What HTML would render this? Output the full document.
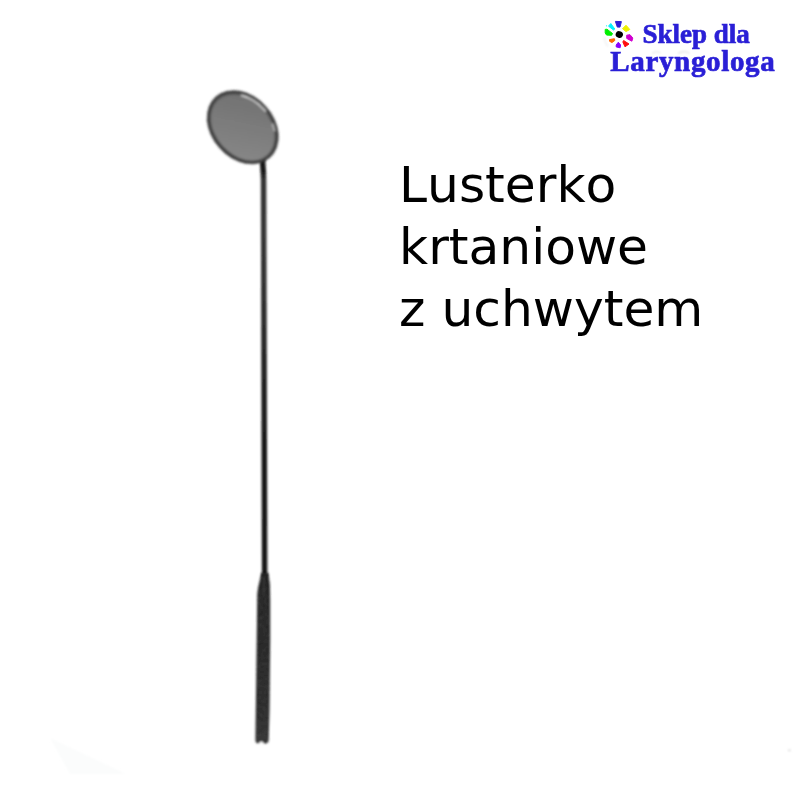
<!DOCTYPE html>
<html lang="pl">
<head>
<meta charset="utf-8">
<title>Lusterko krtaniowe z uchwytem</title>
<style>
html,body{margin:0;padding:0;background:#fff;}
body{width:800px;height:800px;position:relative;overflow:hidden;font-family:"DejaVu Sans","Liberation Sans",sans-serif;}
#art{position:absolute;left:0;top:0;width:800px;height:800px;}
.title{position:absolute;left:399px;top:153.8px;font-family:"DejaVu Sans","Liberation Sans",sans-serif;font-size:50.3px;line-height:62px;color:#000;white-space:nowrap;font-kerning:none;}
.logo{position:absolute;font-family:"Liberation Serif",serif;font-weight:bold;color:#2a1fd6;white-space:nowrap;-webkit-text-stroke:0.7px #2a1fd6;filter:blur(0.6px);}
.l1{left:642.5px;top:18.8px;font-size:27px;line-height:30px;}
.l2{left:610.3px;top:44.9px;font-size:29px;line-height:32px;letter-spacing:0.65px;}
</style>
</head>
<body>
<svg id="art" width="800" height="800" viewBox="0 0 800 800">
  <defs>
    <filter id="b1" x="-20%" y="-20%" width="140%" height="140%"><feGaussianBlur stdDeviation="0.9"/></filter>
    <filter id="b3" x="-50%" y="-5%" width="200%" height="110%"><feGaussianBlur stdDeviation="1.25"/></filter>
    <filter id="nz" x="0" y="0" width="100%" height="100%">
      <feTurbulence type="fractalNoise" baseFrequency="0.55 0.35" numOctaves="2" seed="7" result="t"/>
      <feColorMatrix in="t" type="matrix" values="0 0 0 0 1  0 0 0 0 1  0 0 0 0 1  2.2 0 0 0 -1.0" result="n"/>
      <feComposite in="n" in2="SourceGraphic" operator="in"/>
      <feGaussianBlur stdDeviation="0.5"/>
    </filter>
    <filter id="b2" x="-20%" y="-20%" width="140%" height="140%"><feGaussianBlur stdDeviation="0.65"/></filter>
    <linearGradient id="sg" gradientUnits="userSpaceOnUse" x1="0" y1="158" x2="0" y2="578">
      <stop offset="0" stop-color="#1a1a1a"/>
      <stop offset="0.03" stop-color="#161616"/>
      <stop offset="0.055" stop-color="#363636"/>
      <stop offset="0.25" stop-color="#333333"/>
      <stop offset="0.58" stop-color="#1c1c1c"/>
      <stop offset="0.84" stop-color="#141414"/>
      <stop offset="1" stop-color="#1a1a1a"/>
    </linearGradient>
    <linearGradient id="hg" gradientUnits="userSpaceOnUse" x1="0" y1="573" x2="0" y2="744">
      <stop offset="0" stop-color="#242424"/>
      <stop offset="0.5" stop-color="#282828"/>
      <stop offset="0.85" stop-color="#2c2c2c"/>
      <stop offset="1" stop-color="#363636"/>
    </linearGradient>
    <linearGradient id="mg" x1="0" y1="0" x2="1" y2="1">
      <stop offset="0" stop-color="#6e6e6e"/>
      <stop offset="1" stop-color="#8a8a8a"/>
    </linearGradient>
  </defs>
  <!-- instrument -->
  <g filter="url(#b3)">
    <!-- shaft -->
    <polygon points="259.5,158 265.1,158 266.1,172 266.3,180 267.4,578 261.9,578 260.8,180 260.5,172" fill="url(#sg)"/>
  </g>
  <g filter="url(#b1)">
    <!-- handle -->
    <path d="M261.1,573 L268.4,573 C268.6,577 269.6,580 269.9,585 L270.2,600 L270.2,640 L269.5,710 L268.7,740 Q268.4,743.4 265.5,743.4 L258.4,743.4 Q255.5,743.4 255.4,740 L255.8,710 L256.7,640 L257.2,597 C257.4,587 260.4,580 261.1,573 Z" fill="url(#hg)"/>
    <path d="M258,588 L269.3,588 L268,740 L256.5,740 Z" fill="#fff" filter="url(#nz)" opacity="0.14"/>
    <path d="M263.9,577 L263.7,594" stroke="#3d3d3d" stroke-width="1.3" fill="none" stroke-linecap="round"/>
    <ellipse cx="261.3" cy="743.8" rx="2" ry="2.4" fill="#ffffff"/>
    <!-- mirror -->
    <g transform="translate(242.75 127.25) rotate(48.3)">
      <ellipse cx="0" cy="0" rx="40.9" ry="31.3" fill="#3e3e3e"/>
      <ellipse cx="0" cy="0" rx="37.8" ry="28.2" fill="#5e5e5e"/>
      <ellipse cx="0.3" cy="0.3" rx="36.6" ry="27" fill="url(#mg)"/>
      <path d="M-24.6,-20.3 A37.4 27.8 0 0 1 3,-27.6" fill="none" stroke="#d4d4d4" stroke-width="1.7" stroke-linecap="round"/>
      <path d="M17.5,-24.4 A37.4 27.8 0 0 1 23.5,-21.4" fill="none" stroke="#b8b8b8" stroke-width="1.8" stroke-linecap="round"/>
    </g>
  </g>
  <!-- faint artefacts -->
  <g filter="url(#b1)">
    <polygon points="50,738 70,774 126,774" fill="#fbfcfc"/>
    <rect x="788.4" y="749.8" width="2" height="1.2" fill="#c4c4c4"/>
    <path d="M652,53.5 Q656,50.2 660.5,53" fill="none" stroke="#e4e4e4" stroke-width="1.1"/>
    <path d="M678,53.5 Q683.5,50 689.5,53.2" fill="none" stroke="#e0e0e0" stroke-width="1.1"/>
    <path d="M604.2,37 Q604.8,43 608,46.5" fill="none" stroke="#efefef" stroke-width="1.4"/>
  </g>
  <!-- logo icon -->
  <g filter="url(#b2)" stroke-linejoin="round" stroke-width="1">
    <ellipse cx="619.3" cy="34.5" rx="3.7" ry="3.3" fill="#000" transform="rotate(25 619.3 34.5)"/>
    <polygon points="615.4,21.4 621.4,21.6 620,27.1 617.3,27.1" fill="#2a1fd6" stroke="#2a1fd6"/>
    <polygon points="626,25.2 629.8,29.5 626,31.6 622.5,28.7" fill="#eef000" stroke="#eef000"/>
    <polygon points="626.7,35.2 630,34.7 632.8,38 631.9,41.2 626.7,38.4" fill="#d000d0" stroke="#d000d0"/>
    <polygon points="623.6,40.5 629,44 625,46.8 622.9,42" fill="#ff0a0a" stroke="#ff0a0a"/>
    <polygon points="618.3,42.2 620.6,45 620.1,47.8 616.2,46.9 616.2,45" fill="#8a00ff" stroke="#8a00ff"/>
    <polygon points="609.5,39.6 614.4,38.7 614.8,40.5 612,42.5 609.7,41.4" fill="#ff6a00" stroke="#ff6a00"/>
    <polygon points="605.2,29.4 607,29.2 612.5,33.5 611.6,35.3 606.6,35.1 605.2,33" fill="#00ee00" stroke="#00ee00"/>
    <polygon points="610.8,23.5 614.8,29 613.5,30 608.5,26.2" fill="#00f0ff" stroke="#00f0ff"/>
    <circle cx="606.5" cy="25.8" r="0.6" fill="#00f0ff"/>
  </g>
</svg>
<div class="logo l1">Sklep dla</div>
<div class="logo l2">Laryngologa</div>
<div class="title">Lusterko<br>krtaniowe<br>z uchwytem</div>
</body>
</html>
